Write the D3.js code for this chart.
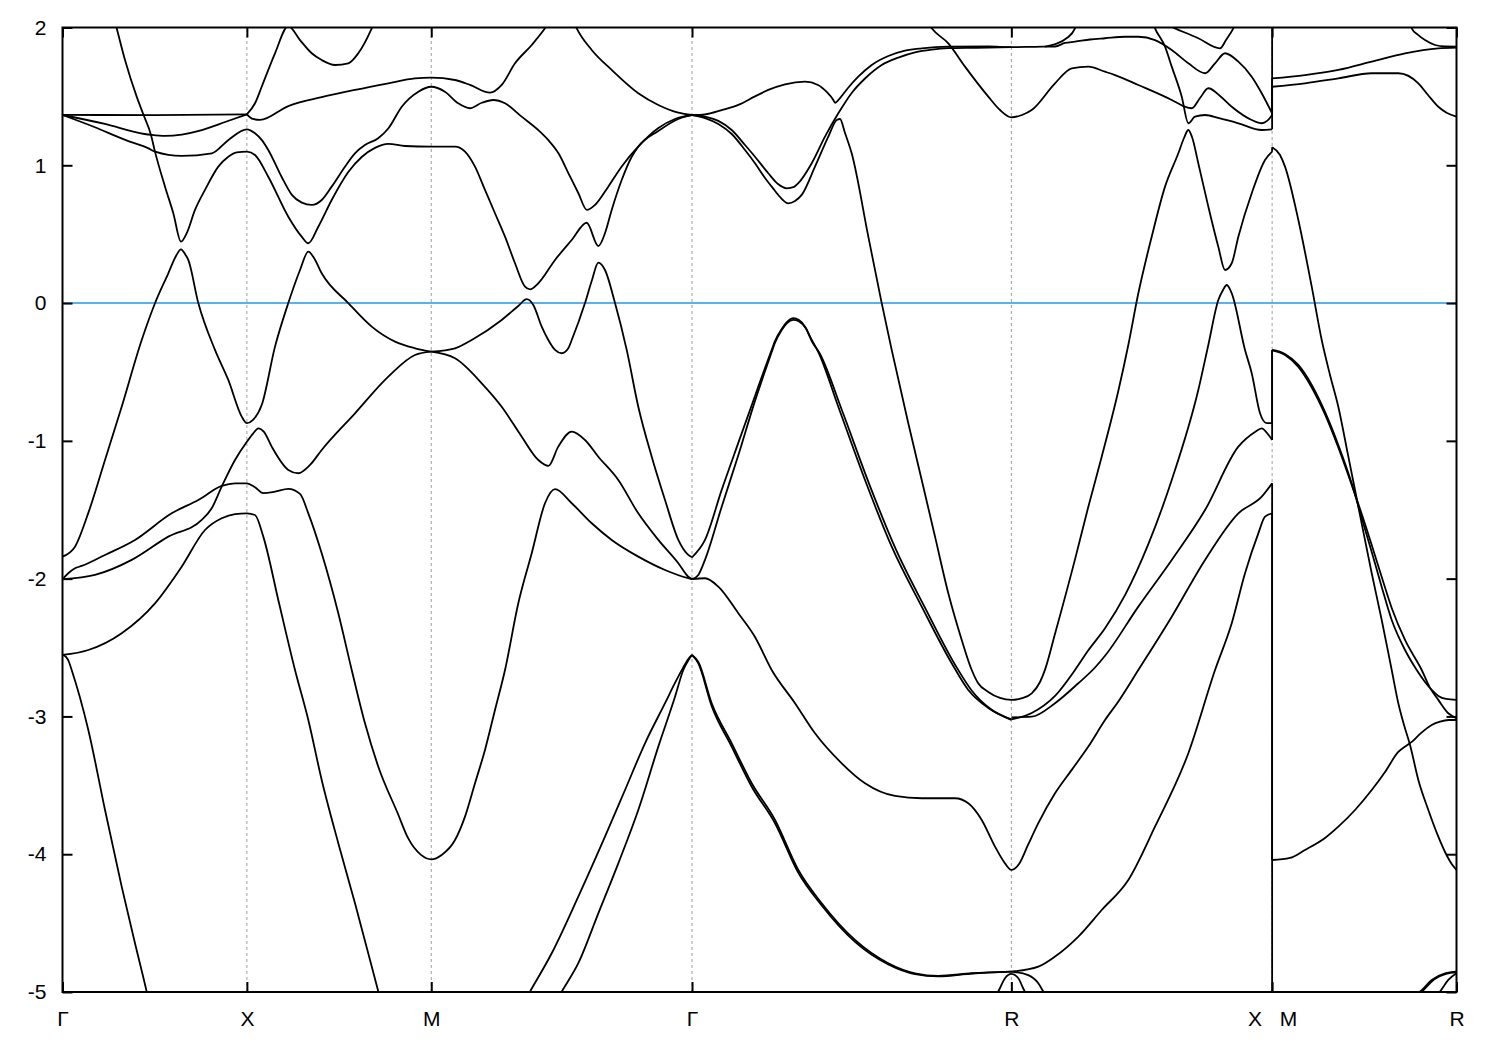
<!DOCTYPE html>
<html><head><meta charset="utf-8">
<script src="https://cdn.jsdelivr.net/npm/d3@7"></script>
<style>
body{margin:0;background:#fff;}
svg text{font-family:"Liberation Sans",Arial,Helvetica,sans-serif;}
</style></head><body>
<svg id="chart" width="1500" height="1050"></svg>
<script>
// ---- axis data ----
const kPoints = [0, 0.5, 1.0, 1.7071, 2.5731, 3.2802, 3.7802];
const kLabels = ["Γ", "X", "M", "Γ", "R", "X   M", "R"];
const yTicks = [-5, -4, -3, -2, -1, 0, 1, 2];
const eRange = [-5, 2];
const fermiLevel = 0;

// ---- band pieces: [k (2π/a path length), E (eV)] ----
// Γ–X–M–Γ part
const bandFlat = [[0,1.366],[0.25,1.364],[0.5,1.37]];
const bandL2 = [[0,1.365],[0.115,1.30],[0.222,1.227],[0.242,1.22],[0.278,1.213],[0.378,1.256],[0.441,1.314],[0.5,1.37]];
const bandL3 = [[0,1.365],[0.088,1.276],[0.170,1.184],[0.233,1.123],[0.251,1.099],[0.323,1.068],[0.405,1.087],[0.450,1.184],[0.5,1.261],
  [0.522,1.232],[0.540,1.184],[0.558,1.111],[0.594,0.917],[0.622,0.785],[0.649,0.729],[0.676,0.712],[0.703,0.748],[0.730,0.845],[0.766,0.990],[0.793,1.087],[0.820,1.147],[0.856,1.196],[0.884,1.269],[0.920,1.425],[0.965,1.534],[1.0,1.570],
  [1.037,1.534],[1.073,1.450],[1.105,1.414],[1.137,1.454],[1.168,1.474],[1.200,1.450],[1.245,1.353],[1.290,1.256],[1.317,1.184],[1.345,1.087],[1.372,0.942],[1.399,0.797],[1.422,0.676],[1.444,0.712],[1.480,0.845],[1.516,0.990],[1.561,1.135],[1.616,1.271],[1.661,1.336],[1.7071,1.365]];
const bandCe = [[0.1397,2.069],[0.147,1.994],[0.1695,1.764],[0.2012,1.498],[0.2191,1.370],[0.240,1.220],[0.2508,1.099],[0.278,0.845],[0.3005,0.652],[0.3213,0.446],[0.3368,0.507],[0.3593,0.676],[0.3864,0.821],[0.4225,0.990],[0.4496,1.062],[0.4724,1.094],[0.5,1.099],[0.522,1.075],[0.558,0.917],[0.6123,0.627],[0.6487,0.482],[0.6666,0.434],[0.6937,0.554],[0.730,0.748],[0.775,0.951],[0.8114,1.060],[0.8474,1.126],[0.8835,1.155],[0.9288,1.140],[1.0,1.135],[1.0644,1.135],[1.0915,1.099],[1.1186,0.990],[1.1457,0.821],[1.1728,0.652],[1.200,0.482],[1.2271,0.289],[1.2542,0.119],[1.2678,0.100],[1.2903,0.144],[1.3356,0.313],[1.3809,0.458],[1.4215,0.583],[1.453,0.414],[1.4711,0.507],[1.4893,0.676],[1.5164,0.893],[1.5436,1.062],[1.5614,1.135],[1.6157,1.249],[1.670,1.336],[1.7071,1.365]];
const bandCurve1 = [[0.5,1.37],[0.5166,1.336],[0.5356,1.329],[0.6123,1.430],[0.7029,1.494],[0.7932,1.547],[0.8835,1.595],[0.9559,1.631],[1.0,1.636],[1.0644,1.619],[1.1051,1.583],[1.1593,1.527],[1.191,1.583],[1.2271,1.740],[1.2724,1.873],[1.3084,1.994],[1.3274,2.069]];
const bandSteepUp = [[0.5,1.37],[0.522,1.450],[0.5402,1.570],[0.5763,1.813],[0.6123,2.01],[0.6441,1.909],[0.6758,1.813],[0.7029,1.764],[0.739,1.728],[0.775,1.740],[0.8021,1.813],[0.8385,1.994],[0.8474,2.05]];
const bandG1 = [[0,-1.840],[0.0339,-1.768],[0.070,-1.523],[0.1153,-1.139],[0.1605,-0.752],[0.2148,-0.268],[0.2508,-0.001],[0.2869,0.216],[0.3078,0.342],[0.3213,0.390],[0.3322,0.356],[0.3411,0.313],[0.3683,0.0],[0.4135,-0.340],[0.4496,-0.558],[0.486,-0.824],[0.5,-0.872],[0.5166,-0.848],[0.5402,-0.740],[0.5763,-0.316],[0.6123,0.0],[0.6441,0.240],[0.6666,0.373],[0.682,0.327],[0.7029,0.216],[0.775,0.0],[0.8385,-0.171],[0.9017,-0.280],[0.9559,-0.328],[1.0,-0.353]];
const bandCa = [[0,-2.004],[0.0881,-1.973],[0.1877,-1.864],[0.2869,-1.695],[0.3775,-1.574],[0.4046,-1.489],[0.4317,-1.332],[0.4678,-1.139],[0.5,-1.006],[0.5174,-0.945],[0.531,-0.909],[0.5464,-0.935],[0.5673,-1.042],[0.6123,-1.211],[0.6394,-1.235],[0.6712,-1.175],[0.7029,-1.066],[0.7932,-0.800],[0.8835,-0.534],[0.9559,-0.377],[1.0,-0.353]];
const bandCb = [[0,-2.004],[0.0157,-1.961],[0.0339,-1.925],[0.0521,-1.908],[0.1153,-1.828],[0.1966,-1.719],[0.2961,-1.526],[0.3683,-1.429],[0.4317,-1.327],[0.4678,-1.308],[0.5,-1.308],[0.522,-1.337],[0.5445,-1.380],[0.5763,-1.369],[0.6123,-1.349],[0.6441,-1.385],[0.6666,-1.526],[0.7029,-1.816],[0.7479,-2.251],[0.7843,-2.663],[0.8203,-3.050],[0.8564,-3.365],[0.9098,-3.708],[0.9369,-3.882],[0.9722,-4.005],[1.0,-4.037],[1.0283,-4.005],[1.0644,-3.897],[1.0915,-3.727],[1.1186,-3.485],[1.1457,-3.243],[1.1728,-2.953],[1.2,-2.663],[1.236,-2.179],[1.2724,-1.816],[1.3084,-1.453],[1.3356,-1.351],[1.3809,-1.453],[1.4351,-1.598],[1.4893,-1.719],[1.5614,-1.840],[1.6339,-1.937],[1.697,-1.997],[1.7071,-2.004]];
const bandCc = [[0,-2.554],[0.070,-2.518],[0.1605,-2.396],[0.2508,-2.179],[0.3232,-1.913],[0.3864,-1.647],[0.4317,-1.562],[0.4678,-1.531],[0.5,-1.526],[0.522,-1.538],[0.5445,-1.695],[0.5871,-2.177],[0.6305,-2.663],[0.6666,-3.026],[0.7029,-3.461],[0.7479,-3.920],[0.7932,-4.356],[0.8564,-4.997],[0.8773,-5.203]];
const bandCd = [[0,-2.554],[0.0095,-2.568],[0.0176,-2.605],[0.0249,-2.663],[0.070,-3.098],[0.1153,-3.679],[0.1605,-4.235],[0.1966,-4.646],[0.2283,-4.997],[0.2454,-5.203]];
const bandCg = [[1.0,-0.353],[1.0644,-0.401],[1.1368,-0.582],[1.191,-0.752],[1.2453,-0.970],[1.2903,-1.139],[1.3174,-1.182],[1.3445,-1.042],[1.3809,-0.933],[1.4169,-0.994],[1.453,-1.115],[1.5072,-1.284],[1.5614,-1.526],[1.6157,-1.719],[1.670,-1.888],[1.697,-1.986],[1.7071,-2.004]];
const bandCf = [[1.0,-0.353],[1.0644,-0.328],[1.1097,-0.268],[1.191,-0.123],[1.236,-0.021],[1.2588,0.028],[1.2767,-0.014],[1.2995,-0.171],[1.3174,-0.268],[1.3356,-0.340],[1.3537,-0.364],[1.3716,-0.328],[1.3809,-0.268],[1.4169,0.0],[1.4359,0.168],[1.453,0.293],[1.4711,0.240],[1.4983,0.0],[1.530,-0.340],[1.5614,-0.752],[1.5978,-1.115],[1.6339,-1.429],[1.670,-1.719],[1.697,-1.828],[1.7071,-1.845]];
const bandCurve4 = [[1.3817,2.069],[1.3944,1.994],[1.4351,1.837],[1.4893,1.692],[1.5614,1.523],[1.6157,1.438],[1.670,1.382],[1.7071,1.365]];
const bandV1 = [[1.2244,-5.203],[1.2678,-4.997],[1.3266,-4.719],[1.3987,-4.308],[1.4711,-3.873],[1.5254,-3.534],[1.5796,-3.195],[1.6339,-2.904],[1.661,-2.757],[1.6827,-2.648],[1.6989,-2.576],[1.7071,-2.554]];
const bandV2 = [[1.3084,-5.203],[1.3537,-4.997],[1.3987,-4.791],[1.453,-4.429],[1.5072,-4.066],[1.5614,-3.679],[1.6157,-3.219],[1.661,-2.857],[1.6835,-2.663],[1.6976,-2.590],[1.7071,-2.554]];
// Γ–R–X part
const bandD1 = [[1.7071,-2.554],[1.7242,-2.605],[1.7605,-2.904],[1.8148,-3.195],[1.869,-3.485],[1.9322,-3.751],[1.9954,-4.114],[2.0588,-4.356],[2.1491,-4.622],[2.2394,-4.791],[2.3118,-4.864],[2.375,-4.883],[2.4656,-4.864],[2.5731,-4.852]];
const bandD2 = [[1.7071,-2.554],[1.7242,-2.615],[1.7605,-2.925],[1.8148,-3.22],[1.869,-3.51],[1.9322,-3.775],[1.9954,-4.135],[2.0588,-4.372],[2.1491,-4.636],[2.2394,-4.80],[2.3118,-4.87],[2.375,-4.886],[2.4656,-4.866],[2.5731,-4.852]];
const bandPlo1 = [[1.7071,-1.845],[1.7423,-1.719],[1.7876,-1.356],[1.8326,-1.015],[1.8779,-0.674],[1.905,-0.471],[1.9232,-0.340],[1.9322,-0.275],[1.9503,-0.188],[1.9647,-0.137],[1.9818,-0.110],[1.9973,-0.123],[2.0135,-0.171],[2.0317,-0.268],[2.0496,-0.355],[2.1038,-0.752],[2.1762,-1.284],[2.2486,-1.768],[2.330,-2.203],[2.4113,-2.614],[2.4563,-2.808],[2.5106,-2.939],[2.5731,-3.025]];
const bandPlo2 = [[1.7071,-2.004],[1.7242,-1.973],[1.7423,-1.864],[1.7876,-1.478],[1.8326,-1.105],[1.8779,-0.71],[1.905,-0.495],[1.9232,-0.355],[1.9322,-0.288],[1.9503,-0.196],[1.9647,-0.145],[1.9818,-0.122],[1.9973,-0.133],[2.0162,-0.185],[2.0317,-0.275],[2.0542,-0.370],[2.1139,-0.78],[2.1871,-1.31],[2.2603,-1.79],[2.3416,-2.225],[2.4216,-2.63],[2.4664,-2.815],[2.5179,-2.948],[2.5731,-3.022]];
const bandCh = [[1.7071,-2.004],[1.7423,-1.997],[1.7784,-2.058],[1.8326,-2.251],[1.8779,-2.423],[1.9232,-2.663],[1.9864,-2.904],[2.0406,-3.122],[2.113,-3.340],[2.1762,-3.485],[2.2576,-3.577],[2.330,-3.594],[2.4203,-3.594],[2.4563,-3.630],[2.4927,-3.751],[2.5288,-3.945],[2.5532,-4.056],[2.5731,-4.114],[2.5939,-4.071],[2.6182,-3.933],[2.6462,-3.775],[2.6915,-3.558],[2.7368,-3.388],[2.7818,-3.219],[2.8271,-3.026],[2.8623,-2.895],[2.9174,-2.663],[3.008,-2.276],[3.0983,-1.864],[3.1886,-1.526],[3.252,-1.405],[3.2802,-1.308]];
const bandR1 = [[1.7071,1.365],[1.7423,1.370],[1.7876,1.401],[1.8326,1.438],[1.8779,1.50],[1.914,1.547],[1.9593,1.588],[2.0135,1.607],[2.0488,1.583],[2.0724,1.532],[2.0903,1.474],[2.0949,1.454],[2.1084,1.488],[2.1301,1.561],[2.1572,1.641],[2.1944,1.728],[2.2394,1.793],[2.2847,1.832],[2.330,1.849],[2.4021,1.861],[2.5106,1.862],[2.5731,1.857],[2.6372,1.860],[2.6915,1.862],[2.7186,1.888],[2.7457,1.897],[2.7864,1.913],[2.8271,1.922],[2.8813,1.933],[2.9174,1.933],[2.9627,1.909],[3.008,1.837],[3.053,1.740],[3.0983,1.668],[3.1254,1.740],[3.1525,1.813],[3.1886,1.752],[3.2249,1.643],[3.252,1.523],[3.2802,1.377]];
const bandP1 = [[1.7071,1.365],[1.7423,1.354],[1.7784,1.322],[1.8148,1.256],[1.8508,1.147],[1.8779,1.062],[1.914,0.942],[1.9403,0.864],[1.9639,0.833],[1.9837,0.843],[1.9954,0.870],[2.0317,1.015],[2.0677,1.208],[2.1038,1.377],[2.1401,1.525],[2.1762,1.630],[2.2215,1.728],[2.2665,1.782],[2.3118,1.820],[2.3571,1.840],[2.4021,1.850],[2.4745,1.853],[2.5731,1.857]];
const bandP2 = [[1.7071,1.365],[1.7423,1.343],[1.7784,1.300],[1.8148,1.227],[1.8508,1.111],[1.8779,1.015],[1.905,0.908],[1.9232,0.845],[1.9457,0.770],[1.9682,0.724],[1.9864,0.741],[2.0045,0.785],[2.0406,0.990],[2.0767,1.208],[2.0995,1.329],[2.1084,1.336],[2.122,1.234],[2.1401,1.087],[2.1852,0.482],[2.2215,0.0],[2.2486,-0.340],[2.2936,-0.872],[2.330,-1.284],[2.3661,-1.695],[2.4021,-2.106],[2.4385,-2.445],[2.4656,-2.663],[2.4826,-2.757],[2.5106,-2.822],[2.5423,-2.866],[2.5731,-2.880],[2.6047,-2.866],[2.6283,-2.832],[2.6508,-2.75],[2.6644,-2.66],[2.6915,-2.40],[2.7457,-1.86],[2.7818,-1.478],[2.8181,-1.115],[2.8637,-0.631],[2.8902,-0.304],[2.9174,0.071],[2.9537,0.482],[2.9898,0.845],[3.0259,1.087],[3.0413,1.198],[3.053,1.256],[3.063,1.205],[3.080,1.015],[3.1072,0.700],[3.1343,0.409],[3.1525,0.240],[3.1707,0.289],[3.1886,0.482],[3.2249,0.797],[3.261,1.039],[3.2802,1.099]];
const bandTopR = [[2.3389,2.069],[2.3571,1.994],[2.4021,1.885],[2.4474,1.716],[2.5106,1.498],[2.5423,1.401],[2.5731,1.348],[2.602,1.365],[2.6283,1.401],[2.6915,1.595],[2.7368,1.704],[2.7818,1.716],[2.8271,1.679],[2.8542,1.655],[2.9174,1.583],[3.008,1.474],[3.0394,1.430],[3.0622,1.414],[3.0847,1.488],[3.1072,1.559],[3.1389,1.503],[3.1707,1.425],[3.2249,1.329],[3.252,1.305],[3.2665,1.322],[3.2802,1.365]];
const bandSteepR = [[2.9491,2.091],[2.9626,1.994],[2.9898,1.861],[3.008,1.716],[3.0351,1.498],[3.053,1.305],[3.0711,1.353],[3.0983,1.365],[3.1389,1.340],[3.1886,1.305],[3.252,1.256],[3.2802,1.261]];
const bandVTop = [[2.9491,2.073],[3.0169,1.994],[3.080,1.922],[3.1389,1.849],[3.1552,1.909],[3.175,1.994],[3.1877,2.069]];
const bandSteepUpR = [[2.6644,1.861],[2.7275,1.931],[2.7457,1.994],[2.7539,2.054]];
const bandLamR = [[2.5731,-3.022],[2.6283,-2.975],[2.6915,-2.851],[2.7457,-2.663],[2.7818,-2.52],[2.8271,-2.36],[2.8813,-2.12],[2.9445,-1.75],[3.008,-1.284],[3.080,-0.631],[3.1072,-0.304],[3.1343,0.022],[3.1471,0.095],[3.1571,0.131],[3.1707,0.071],[3.2067,-0.340],[3.2249,-0.509],[3.2474,-0.800],[3.2656,-0.872],[3.2802,-0.872]];
const bandBR = [[2.5731,-3.007],[2.6283,-3.002],[2.6915,-2.904],[2.7547,-2.759],[2.800,-2.645],[2.8271,-2.56],[2.9174,-2.203],[3.008,-1.864],[3.0983,-1.502],[3.1886,-1.042],[3.2338,-0.935],[3.252,-0.909],[3.2665,-0.943],[3.2802,-0.994]];
const bandER = [[2.5731,-4.852],[2.6462,-4.816],[2.6915,-4.743],[2.7547,-4.598],[2.8181,-4.405],[2.8902,-4.187],[2.9626,-3.800],[3.053,-3.267],[3.1254,-2.663],[3.1707,-2.324],[3.2067,-1.961],[3.2428,-1.671],[3.261,-1.550],[3.2802,-1.526]];
const bandRArch = [[2.5315,-5.029],[2.5423,-4.971],[2.5559,-4.900],[2.5731,-4.869],[2.592,-4.900],[2.6047,-4.971],[2.6156,-5.029]];
const bandRDown = [[2.5731,-4.852],[2.619,-4.878],[2.6462,-4.937],[2.6597,-4.997],[2.6671,-5.029]];
// M–R part
const bandMR1 = [[3.2802,1.631],[3.3694,1.655],[3.4597,1.692],[3.5503,1.752],[3.6406,1.813],[3.7309,1.849],[3.7802,1.854]];
const bandMR2 = [[3.2802,1.570],[3.3694,1.595],[3.4597,1.631],[3.5503,1.668],[3.6224,1.668],[3.6767,1.595],[3.703,1.510],[3.7309,1.425],[3.7545,1.380],[3.7802,1.353]];
const bandMR3 = [[3.6488,2.069],[3.6588,1.994],[3.6759,1.946],[3.6948,1.909],[3.7219,1.873],[3.7491,1.862],[3.7802,1.861]];
const bandMRsteep = [[3.2802,1.131],[3.3016,1.075],[3.3152,0.990],[3.3513,0.603],[3.3876,0.119],[3.4147,-0.268],[3.4372,-0.522],[3.4597,-0.752],[3.486,-1.102],[3.514,-1.478],[3.5503,-1.961],[3.5774,-2.300],[3.6045,-2.663],[3.6224,-2.904],[3.6379,-3.062],[3.6542,-3.207],[3.6767,-3.461],[3.7038,-3.679],[3.7309,-3.873],[3.7491,-3.984],[3.7672,-4.071],[3.7802,-4.114]];
const bandMRB1 = [[3.2802,-0.340],[3.3152,-0.369],[3.3513,-0.449],[3.3876,-0.594],[3.4236,-0.790],[3.4597,-1.030],[3.496,-1.308],[3.5232,-1.560],[3.5503,-1.806],[3.5774,-2.060],[3.6045,-2.300],[3.6406,-2.518],[3.6723,-2.663],[3.6948,-2.750],[3.713,-2.808],[3.7309,-2.851],[3.7518,-2.873],[3.7802,-2.880]];
const bandMRB2 = [[3.2802,-0.343],[3.3152,-0.377],[3.3513,-0.464],[3.3876,-0.613],[3.4236,-0.808],[3.4597,-1.048],[3.496,-1.320],[3.5232,-1.531],[3.5503,-1.756],[3.5774,-1.988],[3.6045,-2.213],[3.6406,-2.445],[3.6859,-2.663],[3.7084,-2.793],[3.7309,-2.880],[3.758,-2.977],[3.7802,-3.013]];
const bandMRC = [[3.2802,-4.042],[3.3287,-4.027],[3.3694,-3.969],[3.4236,-3.882],[3.4597,-3.800],[3.505,-3.679],[3.5503,-3.534],[3.5864,-3.403],[3.6224,-3.258],[3.6433,-3.214],[3.6588,-3.185],[3.6813,-3.127],[3.713,-3.062],[3.7355,-3.038],[3.758,-3.026],[3.7802,-3.026]];
const bandMRbot1 = [[3.6623,-5.029],[3.6813,-4.997],[3.713,-4.912],[3.7491,-4.864],[3.7802,-4.852]];
const bandMRbot2 = [[3.6704,-5.029],[3.6894,-4.989],[3.7192,-4.909],[3.7518,-4.869],[3.7802,-4.858]];
const bandMRbot3 = [[3.7247,-5.029],[3.7355,-4.997],[3.758,-4.912],[3.7802,-4.864]];
// vertical joins at the X|M break: [E at X, E at M]
const jumpK = 3.2802;
const jumpLinks = [[-1.526,-5.3],[-1.308,-4.042],[-0.994,-0.343],[-0.872,-0.340],[1.099,1.131],[1.261,1.570],[1.365,1.631],[1.377,2.1]];

const bandPieces = [bandFlat,bandL2,bandL3,bandCe,bandCurve1,bandSteepUp,bandG1,bandCa,bandCb,bandCc,bandCd,bandCg,bandCf,bandCurve4,bandV1,bandV2,
  bandD1,bandD2,bandPlo1,bandPlo2,bandCh,bandR1,bandP1,bandP2,bandTopR,bandSteepR,bandVTop,bandSteepUpR,bandLamR,bandBR,bandER,bandRArch,bandRDown,
  bandMR1,bandMR2,bandMR3,bandMRsteep,bandMRB1,bandMRB2,bandMRC,bandMRbot1,bandMRbot2,bandMRbot3];

// ---- drawing ----
(function(){
const svg = d3.select("#chart");
const L = 62.5, R = 1456.5, T = 27.5, B = 992;
const x = d3.scaleLinear().domain([kPoints[0], kPoints[kPoints.length-1]]).range([L, R]);
const y = d3.scaleLinear().domain(eRange).range([B, T]);

svg.append("rect").attr("width",1500).attr("height",1050).attr("fill","#fff");
svg.append("defs").append("clipPath").attr("id","plotclip")
  .append("rect").attr("x",L).attr("y",T).attr("width",R-L).attr("height",B-T);

svg.append("g").selectAll("line").data(kPoints.slice(1,-1)).join("line")
  .attr("x1",d=>x(d)).attr("x2",d=>x(d)).attr("y1",y(eRange[0])).attr("y2",y(eRange[1]))
  .attr("stroke","#a0a0a0").attr("stroke-width",1).attr("stroke-dasharray","3,3");

svg.append("line").attr("x1",L).attr("x2",R).attr("y1",y(fermiLevel)).attr("y2",y(fermiLevel))
  .attr("stroke","#56b4e9").attr("stroke-width",2);

const gb = svg.append("g").attr("clip-path","url(#plotclip)");
const line = d3.line().x(d=>x(d[0])).y(d=>y(d[1])).curve(d3.curveMonotoneX);
gb.selectAll("path").data(bandPieces).join("path")
  .attr("d",line).attr("fill","none").attr("stroke","#000").attr("stroke-width",1.8)
  .attr("stroke-linejoin","round");
gb.selectAll("line.jump").data(jumpLinks).join("line").attr("class","jump")
  .attr("x1",x(jumpK)).attr("x2",x(jumpK)).attr("y1",d=>y(d[0])).attr("y2",d=>y(d[1]))
  .attr("stroke","#000").attr("stroke-width",1.8);

const fontSize = 21;
const axL = svg.append("g").attr("transform",`translate(${L},0)`)
  .call(d3.axisLeft(y).tickValues(yTicks).tickSize(-10).tickSizeOuter(0).tickPadding(16).tickFormat(d=>String(d)));
const axR = svg.append("g").attr("transform",`translate(${R},0)`)
  .call(d3.axisRight(y).tickValues(yTicks).tickSize(-10).tickSizeOuter(0).tickFormat(""));
const axB = svg.append("g").attr("transform",`translate(0,${B})`)
  .call(d3.axisBottom(x).tickValues(kPoints).tickSize(-10).tickSizeOuter(0).tickPadding(19).tickFormat((d,i)=>kLabels[i]));
const axT = svg.append("g").attr("transform",`translate(0,${T})`)
  .call(d3.axisTop(x).tickValues(kPoints).tickSize(-10).tickSizeOuter(0).tickFormat(""));
[axL,axR,axB,axT].forEach(g=>{
  g.select(".domain").remove();
  g.selectAll(".tick line").attr("stroke","#000").attr("stroke-width",2);
  g.selectAll("text").attr("fill","#000").attr("font-size",fontSize)
    .attr("font-family",'"Liberation Sans", Arial, sans-serif')
    .attr("xml:space","preserve").style("white-space","pre");
});

svg.append("rect").attr("x",L).attr("y",T).attr("width",R-L).attr("height",B-T)
  .attr("fill","none").attr("stroke","#000").attr("stroke-width",2);
})();
</script>
</body></html>
